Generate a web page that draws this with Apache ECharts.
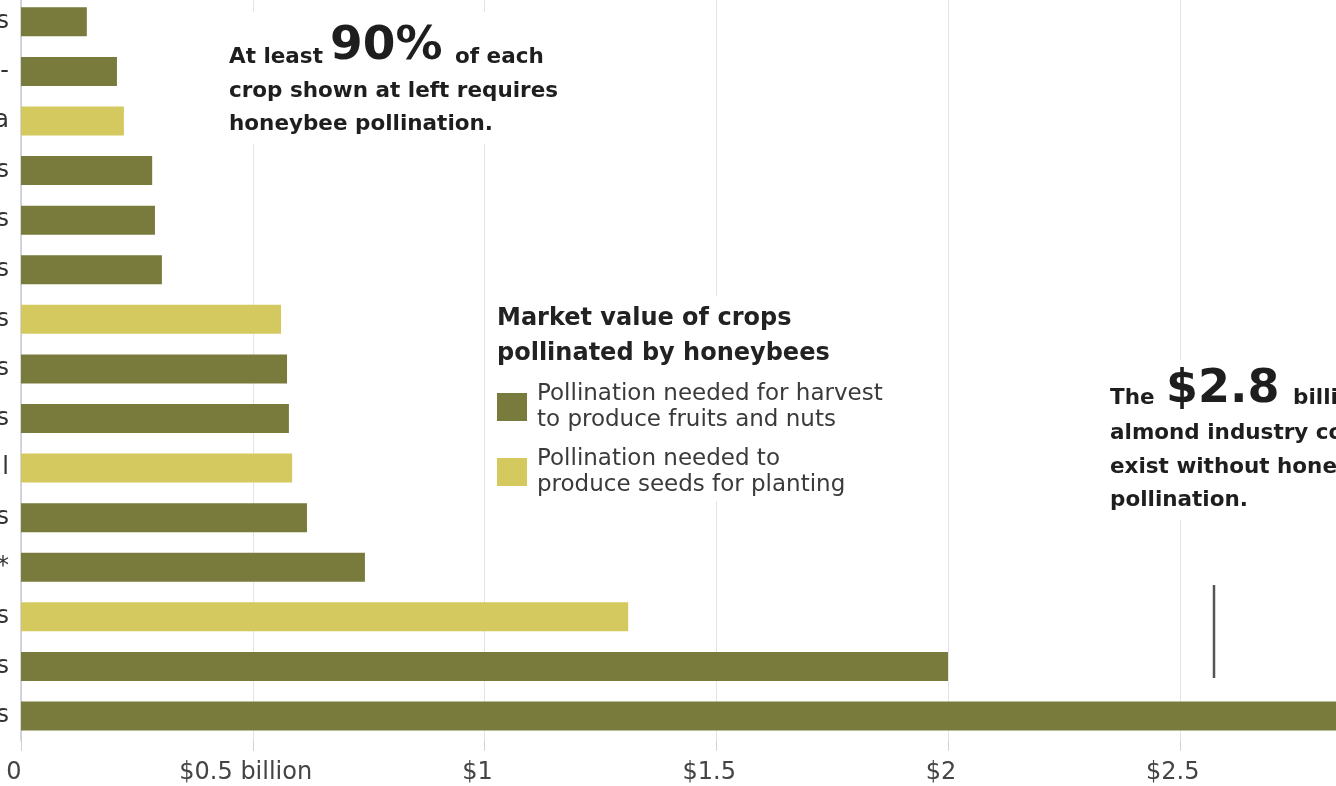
<!DOCTYPE html>
<html>
<head>
<meta charset="utf-8">
<script src="https://cdn.jsdelivr.net/npm/echarts@6/dist/echarts.min.js"></script>
<style>
  html, body { margin: 0; padding: 0; background: #ffffff; overflow: hidden; width: 1336px; height: 786px; }
  #chart { position: absolute; left: 0; top: -20px; width: 1440px; height: 806px; }
</style>
</head>
<body>
<div id="chart"></div>
<script>
// Visible (cropped) ends of the crop labels, top to bottom
const categories = ["s", "-", "a", "s", "s", "s", "s", "s", "s", "l", "s", "*", "s", "s", "s"];
// Market value in billions of dollars, top to bottom
const values = [0.142, 0.207, 0.222, 0.283, 0.289, 0.304, 0.561, 0.574, 0.578, 0.585, 0.617, 0.742, 1.31, 2.0, 2.85];
// "fruit" = pollination needed for harvest, "seed" = needed to produce seeds for planting
const kinds = ["fruit", "fruit", "seed", "fruit", "fruit", "fruit", "seed", "fruit", "fruit", "seed", "fruit", "fruit", "seed", "fruit", "fruit"];
const tickValues = [0, 0.5, 1, 1.5, 2, 2.5];
const tickLabels = ["0", "$0.5 billion", "$1", "$1.5", "$2", "$2.5"];
const seriesNames = {
  fruit: "Pollination needed for harvest\nto produce fruits and nuts",
  seed: "Pollination needed to\nproduce seeds for planting"
};

const DARK = "#787b3b";
const LIGHT = "#d4c95e";
const FONT = "DejaVu Sans";

const chart = echarts.init(document.getElementById("chart"), null, { renderer: "canvas" });

const fruitData = values.map((v, i) => kinds[i] === "fruit" ? v : null);
const seedData = values.map((v, i) => kinds[i] === "seed" ? v : null);

const txt = (text, x, y, size, extra) => ({
  type: "text", x: x, y: y + 20, silent: true, z: 3,
  style: Object.assign({ text: text, fontFamily: FONT, fontSize: size, fontWeight: "bold", fill: "#1e1e1e", verticalAlign: "middle", align: "left" }, extra || {})
});
const blank = (x, y, w, h) => ({
  type: "rect", silent: true, z: 1, shape: { x: x, y: y + 20, width: w, height: h }, style: { fill: "#ffffff" }
});

chart.setOption({
  backgroundColor: "#ffffff",
  animation: false,
  title: {
    text: "Market value of crops\npollinated by honeybees",
    left: 497, top: 321, padding: 0, z: 4,
    textStyle: { fontFamily: FONT, fontSize: 24, fontWeight: "bold", color: "#222", lineHeight: 35 }
  },
  legend: {
    orient: "vertical", left: 497, top: 388, padding: 0, z: 4,
    itemWidth: 30, itemHeight: 28, itemGap: -13,
    icon: "rect",
    selectedMode: false,
    textStyle: { fontFamily: FONT, fontSize: 23, color: "#3a3a3a", lineHeight: 26, padding: [26, 0, 0, 5] },
    data: [seriesNames.fruit, seriesNames.seed]
  },
  grid: { left: 21, top: 17, width: 1390.5, bottom: 45.2, containLabel: false, outerBoundsMode: "none" },
  xAxis: {
    type: "value", min: 0, max: 3, interval: 0.5,
    axisLine: { show: false },
    axisTick: { show: true, length: 10, lineStyle: { color: "#d0d0d0", width: 1 } },
    splitLine: { show: true, lineStyle: { color: "#e4e4e4", width: 1 } },
    axisLabel: {
      margin: 20, fontFamily: FONT, fontSize: 24, color: "#444", padding: [0, 14, 0, 0],
      formatter: (v) => { const i = tickValues.indexOf(v); return i >= 0 ? tickLabels[i] : ""; }
    }
  },
  yAxis: {
    type: "category", inverse: true, data: categories,
    axisLine: { show: true, lineStyle: { color: "#c6c9d6", width: 1.5 } },
    axisTick: { show: false },
    axisLabel: { margin: 12, fontFamily: FONT, fontSize: 24, color: "#333" }
  },
  series: [
    { name: seriesNames.fruit, type: "bar", stack: "v", data: fruitData, barWidth: 29, itemStyle: { color: DARK }, silent: true, z: 2 },
    { name: seriesNames.seed, type: "bar", stack: "v", data: seedData, barWidth: 29, itemStyle: { color: LIGHT }, silent: true, z: 2 }
  ],
  graphic: [
    blank(222, 12, 345, 132),
    blank(490, 296, 405, 205),
    blank(1100, 360, 260, 160),
    txt("At least", 229, 57.6, 21.5),
    txt("90%", 330, 47, 47),
    txt("of each", 455, 57.6, 21.5),
    txt("crop shown at left requires", 229, 91.6, 21.5),
    txt("honeybee pollination.", 229, 124.6, 21.5),
    txt("The", 1110, 398.6, 21.5),
    txt("$2.8", 1166, 390, 46),
    txt("billion", 1293, 398.6, 21.5),
    txt("almond industry could not", 1110, 433, 21.5),
    txt("exist without honeybee", 1110, 467, 21.5),
    txt("pollination.", 1110, 500.6, 21.5),
    { type: "line", silent: true, z: 3, shape: { x1: 1214, y1: 605, x2: 1214, y2: 698 }, style: { stroke: "#555", lineWidth: 2.5 } }
  ]
});
</script>
</body>
</html>
